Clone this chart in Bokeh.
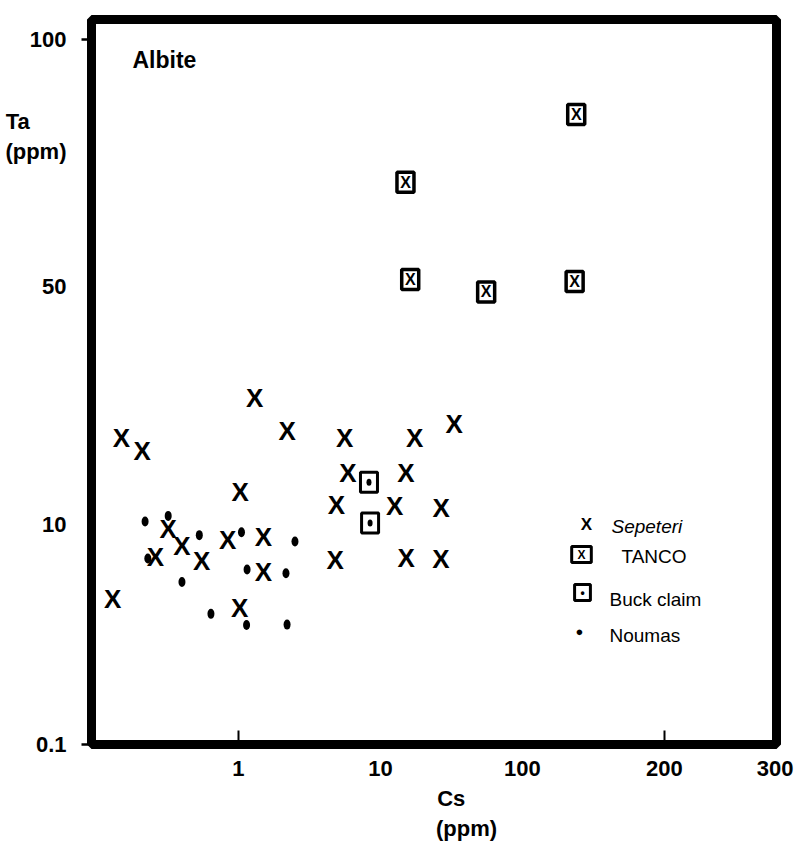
import numpy as np
from bokeh.plotting import figure
from bokeh.models import FixedTicker, Label, ColumnDataSource
from bokeh.core.properties import value
from bokeh.embed import file_html
from bokeh.resources import INLINE

# ---- hand-drawn piecewise-logarithmic scales of the original figure ----
CS_SCALE_VALUES = [0.01, 0.1, 1, 10, 100, 200, 300]
CS_SCALE_UNITS = [-2.0, -1.0, 0.0, 1.0, 2.0, 3.0, 3.78]
TA_SCALE_VALUES = [0.1, 10, 50, 100]
TA_SCALE_UNITS = [0.0, 2.2, 4.58, 7.05]

CS_TICKS = [1, 10, 100, 200, 300]
CS_TICK_LABELS = ["1", "10", "100", "200", "300"]
CS_MARKED_TICKS = [1, 200]
TA_TICKS = [0.1, 10, 50, 100]
TA_TICK_LABELS = ["0.1", "10", "50", "100"]
TA_MARKED_TICKS = [0.1, 100]

X_TITLE = "\u00a0\nCs" + "\u00a0" * 5 + "\n(ppm)"
Y_TITLE = "Ta" + "\u00a0" * 6 + "\n(ppm)"
X_TITLE_AT = 1.606   # axis units where the axis title sits
Y_TITLE_AT = 6.085

# ---- data (ppm) ----
sepeteri_cs = [0.15, 0.21, 1.3, 2.2, 5.6, 17.4, 33, 1.03, 5.9, 15.1, 4.9, 12.6, 26.8,
               0.32, 0.40, 0.26, 0.55, 0.84, 1.5, 1.5, 4.8, 15.2, 26.7, 0.13, 1.02]
sepeteri_ta = [17.9, 16.4, 23.5, 18.8, 18.0, 18.0, 19.7, 12.5, 14.2, 14.2, 11.4, 11.3, 11.2,
               9.1, 6.4, 5.05, 4.7, 7.3, 7.7, 3.7, 4.8, 4.95, 4.85, 2.1, 1.74]

tanco_cs = [130, 15.0, 16.2, 55.5, 129]
tanco_ta = [81, 67, 51, 48.2, 50.7]

buck_cs = [8.3, 8.45]
buck_ta = [13.3, 10.1]

noumas_cs = [0.22, 0.32, 0.53, 1.05, 2.5, 0.23, 0.40, 1.15, 2.16, 0.64, 1.14, 2.2]
noumas_ta = [10.2, 10.6, 8.0, 8.5, 7.0, 4.9, 3.0, 3.9, 3.6, 1.54, 1.22, 1.23]


def cs_u(v):
    return np.round(np.interp(np.log10(np.asarray(v, float)),
                              np.log10(CS_SCALE_VALUES), CS_SCALE_UNITS), 6)


def ta_u(v):
    return np.round(np.interp(np.log10(np.asarray(v, float)),
                              np.log10(TA_SCALE_VALUES), TA_SCALE_UNITS), 6)


FONT = "Liberation Sans"

p = figure(width=812, height=843, output_backend="svg", toolbar_location=None,
           x_range=(-1.035, 3.789), y_range=(0, 7.25),
           min_border_left=91, min_border_right=36, min_border_top=19, min_border_bottom=98)
p.background_fill_color = "white"
p.border_fill_color = "white"
p.outline_line_color = "black"
p.outline_line_width = 9
p.xgrid.visible = False
p.ygrid.visible = False

# x axis
xt = [float(t) for t in cs_u(CS_TICKS)]
p.xaxis.ticker = FixedTicker(ticks=xt + [X_TITLE_AT],
                             minor_ticks=[float(t) for t in cs_u(CS_MARKED_TICKS)])
xo = {t: l for t, l in zip(xt, CS_TICK_LABELS)}
xo[X_TITLE_AT] = X_TITLE
p.xaxis.major_label_overrides = xo
p.xaxis.axis_line_color = None
p.xaxis.major_tick_line_color = None
p.xaxis.major_tick_in = 0
p.xaxis.major_tick_out = 0
p.xaxis.minor_tick_line_color = "black"
p.xaxis.minor_tick_line_width = 2
p.xaxis.minor_tick_in = 14
p.xaxis.minor_tick_out = 2
p.xaxis.major_label_standoff = 9
p.xaxis.major_label_text_font = FONT
p.xaxis.major_label_text_font_style = "bold"
p.xaxis.major_label_text_font_size = "22px"
p.xaxis.major_label_text_color = "black"

# y axis
yt = [float(t) for t in ta_u(TA_TICKS)]
p.yaxis.ticker = FixedTicker(ticks=yt + [Y_TITLE_AT],
                             minor_ticks=[float(t) for t in ta_u(TA_MARKED_TICKS)])
yo = {t: l for t, l in zip(yt, TA_TICK_LABELS)}
yo[Y_TITLE_AT] = Y_TITLE
p.yaxis.major_label_overrides = yo
p.yaxis.axis_line_color = None
p.yaxis.major_tick_line_color = None
p.yaxis.major_tick_in = 0
p.yaxis.major_tick_out = 0
p.yaxis.minor_tick_line_color = "black"
p.yaxis.minor_tick_line_width = 2.5
p.yaxis.minor_tick_in = 0
p.yaxis.minor_tick_out = 10
p.yaxis.major_label_standoff = 15
p.yaxis.major_label_text_font = FONT
p.yaxis.major_label_text_font_style = "bold"
p.yaxis.major_label_text_font_size = "22px"
p.yaxis.major_label_text_color = "black"

# ---- marks ----
src_sep = ColumnDataSource(dict(x=cs_u(sepeteri_cs), y=ta_u(sepeteri_ta), t=["X"] * len(sepeteri_cs)))
p.text(x="x", y="y", text="t", source=src_sep, text_align="center", text_baseline="middle",
       text_font=value("Liberation Sans Narrow, Liberation Sans"), text_font_style="bold",
       text_font_size="26px", text_color="black")

src_tan = ColumnDataSource(dict(x=cs_u(tanco_cs), y=ta_u(tanco_ta), t=["X"] * len(tanco_cs)))
p.rect(x="x", y="y", width=17, height=20, width_units="screen", height_units="screen",
       source=src_tan, fill_color="white", line_color="black", line_width=3.5)
p.text(x="x", y="y", text="t", source=src_tan, text_align="center", text_baseline="middle",
       text_font=value("Liberation Sans Narrow, Liberation Sans"), text_font_style="bold",
       text_font_size="16px", text_color="black")

src_buck = ColumnDataSource(dict(x=cs_u(buck_cs), y=ta_u(buck_ta)))
p.rect(x="x", y="y", width=17, height=20, width_units="screen", height_units="screen",
       source=src_buck, fill_color="white", line_color="black", line_width=3)
p.ellipse(x="x", y="y", width=5, height=7, width_units="screen", height_units="screen",
          source=src_buck, fill_color="black", line_color=None)

src_nou = ColumnDataSource(dict(x=cs_u(noumas_cs), y=ta_u(noumas_ta)))
p.ellipse(x="x", y="y", width=7, height=10, width_units="screen", height_units="screen",
          source=src_nou, fill_color="black", line_color=None)


# ---- texts inside the frame (screen units relative to the plot frame) ----
def lab(x, y, text, size="22px", style="bold", align="left", font=FONT, **kw):
    p.add_layout(Label(x=x, y=y, x_units="screen", y_units="screen", text=text,
                       text_font=font, text_font_size=size, text_font_style=style,
                       text_align=align, text_baseline="middle", text_color="black", **kw))


lab(41, 685, "Albite", size="23px")

# legend
lab(495, 220, "X", size="17px", style="bold", align="center")
lab(520, 218, "Sepeteri", size="19px", style="italic")
lab(490, 190, "\u2009\u2009X\u2009\u2009", size="12px", style="bold", align="center",
    border_line_color="black", border_line_width=3, padding=1, background_fill_color="white")
lab(530, 188, "TANCO", size="19px", style="normal")
lab(491, 152, "\u2009\u2009\u2022\u2009\u2009", size="12px", style="bold", align="center",
    border_line_color="black", border_line_width=3, padding=1, background_fill_color="white")
lab(518, 145, "Buck claim", size="19px", style="normal")
lab(488, 113, "\u25CF", size="13px", style="normal", align="center")
lab(518, 109, "Noumas", size="19px", style="normal")

open("out.html", "w").write(file_html(p, INLINE))
